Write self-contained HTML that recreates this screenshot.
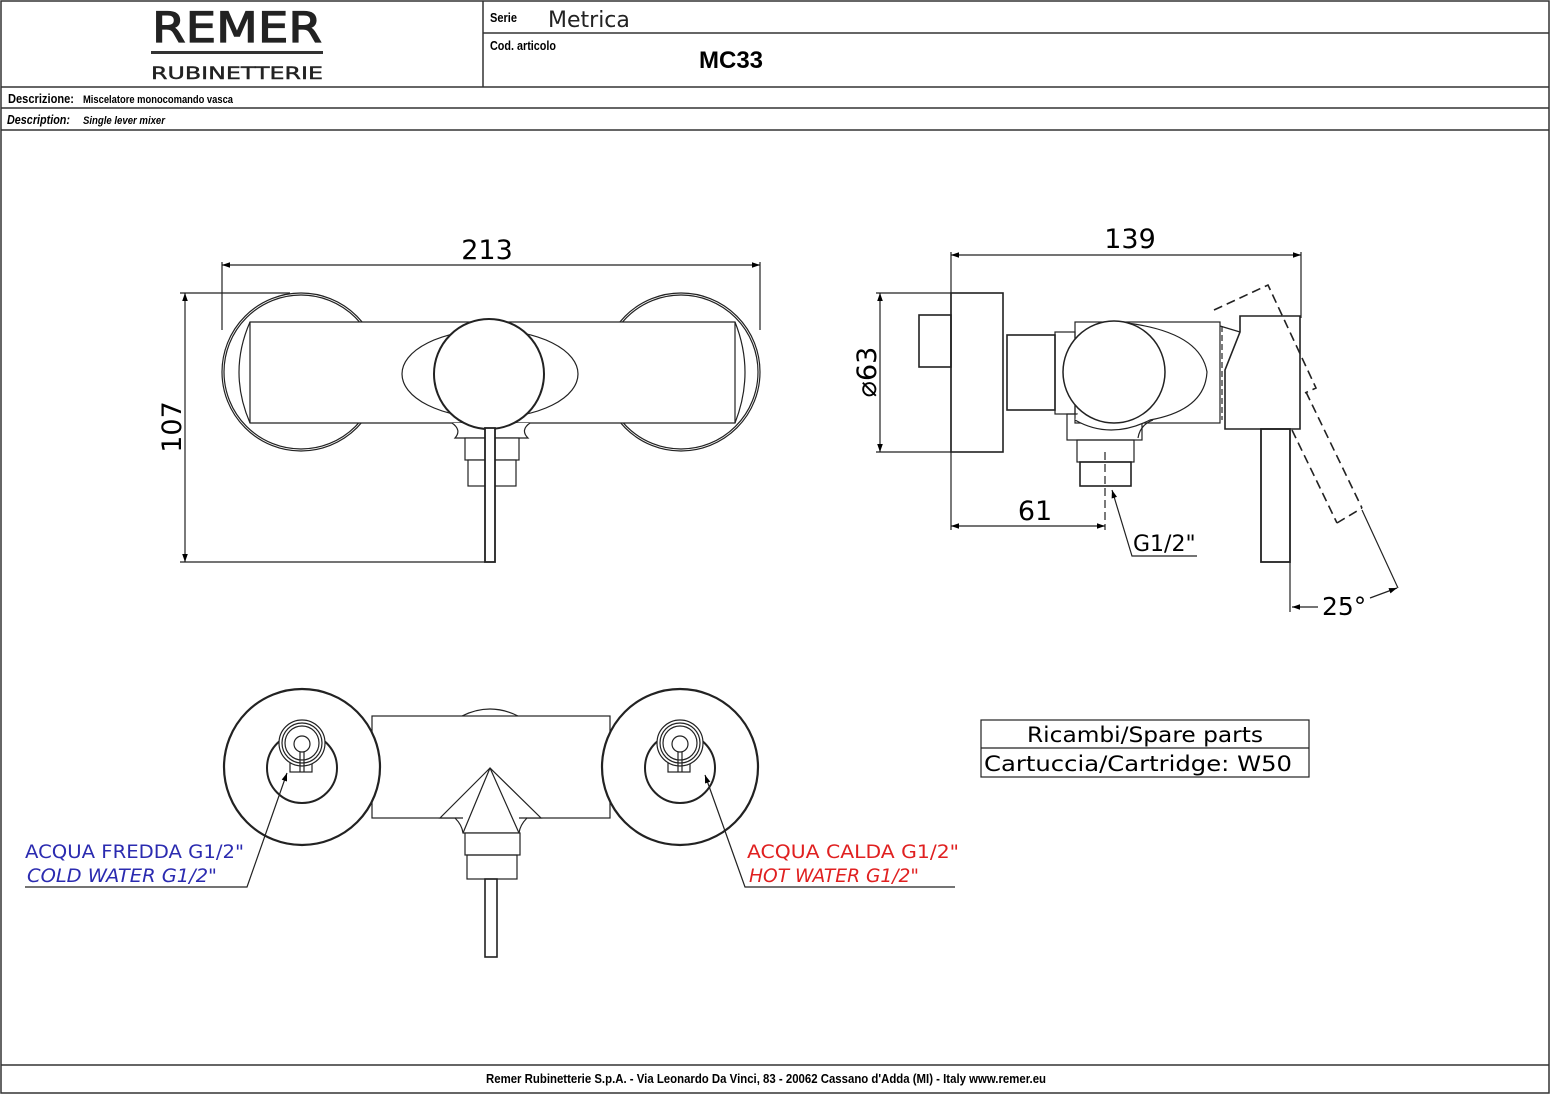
<!DOCTYPE html>
<html><head><meta charset="utf-8"><style>
html,body{margin:0;padding:0;background:#fff}
svg{display:block}
.n{font-family:"Liberation Sans Narrow","Liberation Sans",sans-serif;font-weight:bold}
.s{font-family:"DejaVu Sans","Liberation Sans",sans-serif}
</style></head><body>
<svg width="1551" height="1095" viewBox="0 0 1551 1095" xmlns="http://www.w3.org/2000/svg">
<defs>
<marker id="a" viewBox="0 0 10 10" refX="10" refY="5" markerWidth="12" markerHeight="8" orient="auto-start-reverse" markerUnits="userSpaceOnUse"><path d="M0,1.5 L10,5 L0,8.5z" fill="#000"/></marker>
</defs>
<g fill="none" stroke="#333" stroke-width="1.5">
<rect x="1" y="1" width="1548" height="1092"/>
<line x1="483" y1="1" x2="483" y2="87"/>
<line x1="483" y1="33" x2="1549" y2="33"/>
<line x1="1" y1="87" x2="1549" y2="87"/>
<line x1="1" y1="108" x2="1549" y2="108"/>
<line x1="1" y1="130" x2="1549" y2="130"/>
<line x1="1" y1="1065" x2="1549" y2="1065"/>
</g>
<text x="237" y="42" text-anchor="middle" class="s" font-size="42" fill="#222" stroke="#222" stroke-width="1.2" textLength="170" lengthAdjust="spacingAndGlyphs">REMER</text>
<rect x="151" y="51" width="172" height="3" fill="#333"/>
<text x="237" y="79" text-anchor="middle" class="s" font-size="17" fill="#222" stroke="#222" stroke-width="0.4" textLength="172" lengthAdjust="spacingAndGlyphs">RUBINETTERIE</text>
<text x="490" y="22" class="n" font-size="13" textLength="27" lengthAdjust="spacingAndGlyphs">Serie</text>
<text x="548" y="27" class="s" font-size="22" fill="#222">Metrica</text>
<text x="490" y="50" class="n" font-size="13" textLength="66" lengthAdjust="spacingAndGlyphs">Cod. articolo</text>
<text x="699" y="68" font-family="Liberation Sans" font-weight="bold" font-size="24">MC33</text>
<text x="8" y="103" class="n" font-size="13" textLength="66" lengthAdjust="spacingAndGlyphs">Descrizione:</text>
<text x="83" y="103" class="n" font-size="11" textLength="150" lengthAdjust="spacingAndGlyphs">Miscelatore monocomando vasca</text>
<text x="7" y="124" class="n" font-size="13" font-style="italic" textLength="63" lengthAdjust="spacingAndGlyphs">Description:</text>
<text x="83" y="124" class="n" font-size="11" font-style="italic" textLength="82" lengthAdjust="spacingAndGlyphs">Single lever mixer</text>
<text x="766" y="1083" text-anchor="middle" class="n" font-size="13" textLength="560" lengthAdjust="spacingAndGlyphs">Remer Rubinetterie S.p.A. - Via Leonardo Da Vinci, 83 - 20062 Cassano d'Adda (MI) - Italy www.remer.eu</text>

<!-- FRONT VIEW -->
<g fill="none" stroke="#222" stroke-width="1.2">
<line x1="222" y1="262" x2="222" y2="330"/>
<line x1="760" y1="262" x2="760" y2="330"/>
<line x1="222" y1="265" x2="760" y2="265" marker-start="url(#a)" marker-end="url(#a)"/>
<line x1="180" y1="293" x2="290" y2="293"/>
<line x1="180" y1="562" x2="485" y2="562"/>
<line x1="185" y1="293" x2="185" y2="562" marker-start="url(#a)" marker-end="url(#a)"/>
<circle cx="301" cy="372" r="79" fill="#fff"/>
<circle cx="301" cy="372" r="77"/>
<circle cx="681" cy="372" r="79" fill="#fff"/>
<circle cx="681" cy="372" r="77"/>
<path d="M250,322 L735,322 Q755,372 735,423 L250,423 Q228,372 250,322z" fill="#fff"/>
<line x1="250" y1="322" x2="250" y2="423"/>
<line x1="735" y1="322" x2="735" y2="423"/>
<ellipse cx="490" cy="374" rx="88" ry="44" fill="#fff"/>
<path d="M452,423 Q462,430 455,438 L528,438 Q520,430 530,423" fill="#fff"/>
<rect x="465" y="438" width="54" height="22" fill="#fff"/>
<rect x="468" y="460" width="48" height="26" fill="#fff"/>
<circle cx="489" cy="374" r="55" fill="#fff" stroke-width="2"/>
<rect x="485" y="428" width="10" height="134" fill="#fff" stroke-width="1.8"/>
</g>
<text x="487" y="259" text-anchor="middle" class="s" font-size="27">213</text>
<text transform="translate(181,427) rotate(-90)" text-anchor="middle" class="s" font-size="27">107</text>

<!-- SIDE VIEW -->
<g fill="none" stroke="#222" stroke-width="1.2">
<line x1="951" y1="252" x2="951" y2="530"/>
<line x1="1301" y1="252" x2="1301" y2="318"/>
<line x1="951" y1="255" x2="1301" y2="255" marker-start="url(#a)" marker-end="url(#a)"/>
<line x1="876" y1="293" x2="951" y2="293"/>
<line x1="876" y1="452" x2="951" y2="452"/>
<line x1="880" y1="293" x2="880" y2="452" marker-start="url(#a)" marker-end="url(#a)"/>
<rect x="919" y="315" width="32" height="52" stroke-width="1.6"/>
<rect x="951" y="293" width="52" height="159" stroke-width="1.6"/>
<rect x="1007" y="335" width="48" height="75" stroke-width="1.6"/>
<rect x="1055" y="332" width="20" height="82"/>
<rect x="1075" y="322" width="145" height="101"/>
<rect x="1067" y="414" width="75" height="26"/>
<rect x="1077" y="440" width="57" height="22"/>
<rect x="1080" y="462" width="51" height="24" stroke-width="1.6"/>
<path d="M1118,322 Q1200,330 1207,372 Q1205,410 1150,420 Q1110,440 1075,420" fill="#fff"/>
<path d="M1138,438 Q1140,425 1153,420"/>
<circle cx="1114" cy="372" r="51" fill="#fff" stroke-width="1.5"/>
<line x1="1105" y1="452" x2="1105" y2="530" stroke-dasharray="8,4"/>
<line x1="951" y1="526" x2="1105" y2="526" marker-start="url(#a)" marker-end="url(#a)"/>
<polyline points="1197,556 1132,556 1112,490" marker-end="url(#a)"/>
<path d="M1240,316 L1300,316 L1300,429 L1225,429 L1225,370 L1240,332z" fill="#fff" stroke-width="1.6"/>
<line x1="1220" y1="326" x2="1240" y2="332"/>
<line x1="1222" y1="326" x2="1222" y2="420" stroke-dasharray="6,3"/>
<rect x="1261" y="429" width="29" height="133" stroke-width="1.8"/>
<g stroke-dasharray="9,5" stroke-width="1.6">
<polyline points="1214,310 1268,285 1316,388 1305,393"/>
<line x1="1292" y1="430" x2="1337" y2="523"/>
<line x1="1306" y1="392" x2="1362" y2="508"/>
<line x1="1337" y1="523" x2="1362" y2="508"/>
</g>
<line x1="1362" y1="510" x2="1398" y2="588"/>
<line x1="1290" y1="562" x2="1290" y2="612"/>
<line x1="1318" y1="607" x2="1292" y2="607" marker-end="url(#a)"/>
<line x1="1370" y1="598" x2="1397" y2="588" marker-end="url(#a)"/>
</g>
<text x="1130" y="248" text-anchor="middle" class="s" font-size="27">139</text>
<text transform="translate(876,372) rotate(-90)" text-anchor="middle" class="s" font-size="27">⌀63</text>
<text x="1035" y="520" text-anchor="middle" class="s" font-size="27">61</text>
<text x="1133" y="551" class="s" font-size="22">G1/2"</text>
<text x="1322" y="615" class="s" font-size="25">25°</text>

<!-- BOTTOM VIEW -->
<g fill="none" stroke="#222" stroke-width="1.2">
<rect x="372" y="716" width="238" height="102"/>
<path d="M462,716 Q490,702 518,716"/>
<circle cx="302" cy="767" r="78" fill="#fff" stroke-width="2.2"/>
<circle cx="680" cy="767" r="78" fill="#fff" stroke-width="2.2"/>
<circle cx="302" cy="768" r="35" stroke-width="2"/>
<circle cx="680" cy="768" r="35" stroke-width="2"/>
<g id="v">
<rect x="290" y="752" width="22" height="20" fill="#fff"/>
<circle cx="302" cy="743" r="23" fill="#fff"/>
<circle cx="302" cy="743" r="20"/>
<circle cx="302" cy="743" r="17"/>
<circle cx="302" cy="744" r="8"/>
<line x1="300" y1="752" x2="300" y2="772"/><line x1="304" y1="752" x2="304" y2="772"/>
</g>
<use href="#v" x="378"/>
<path d="M490,768 L440,818 L455,818 Q462,825 463,833 L519,833 Q520,825 527,818 L541,818z" fill="#fff"/>
<path d="M490,768 L463,833 M490,768 L519,833 M455,818 L463,818 M527,818 L519,818"/>
<rect x="465" y="833" width="55" height="22" fill="#fff"/>
<rect x="467" y="855" width="50" height="24"/>
<rect x="485" y="879" width="12" height="78" stroke-width="1.6"/>
<polyline points="25,887 247,887 287,773" marker-end="url(#a)"/>
<polyline points="955,887 745,887 705,775" marker-end="url(#a)"/>
<rect x="981" y="720" width="328" height="57"/>
<line x1="981" y1="748" x2="1309" y2="748"/>
</g>
<text x="25" y="858" class="s" font-size="19" fill="#2b2bb0" textLength="219" lengthAdjust="spacingAndGlyphs">ACQUA FREDDA G1/2"</text>
<text x="27" y="882" class="s" font-size="19" font-style="italic" fill="#2b2bb0" textLength="190" lengthAdjust="spacingAndGlyphs">COLD WATER G1/2"</text>
<text x="747" y="858" class="s" font-size="19" fill="#e02020" textLength="212" lengthAdjust="spacingAndGlyphs">ACQUA CALDA G1/2"</text>
<text x="749" y="882" class="s" font-size="19" font-style="italic" fill="#e02020" textLength="170" lengthAdjust="spacingAndGlyphs">HOT WATER G1/2"</text>
<text x="1145" y="742" text-anchor="middle" class="s" font-size="21" textLength="236" lengthAdjust="spacingAndGlyphs">Ricambi/Spare parts</text>
<text x="984" y="771" class="s" font-size="21" textLength="308" lengthAdjust="spacingAndGlyphs">Cartuccia/Cartridge:  W50</text>
</svg>
</body></html>
